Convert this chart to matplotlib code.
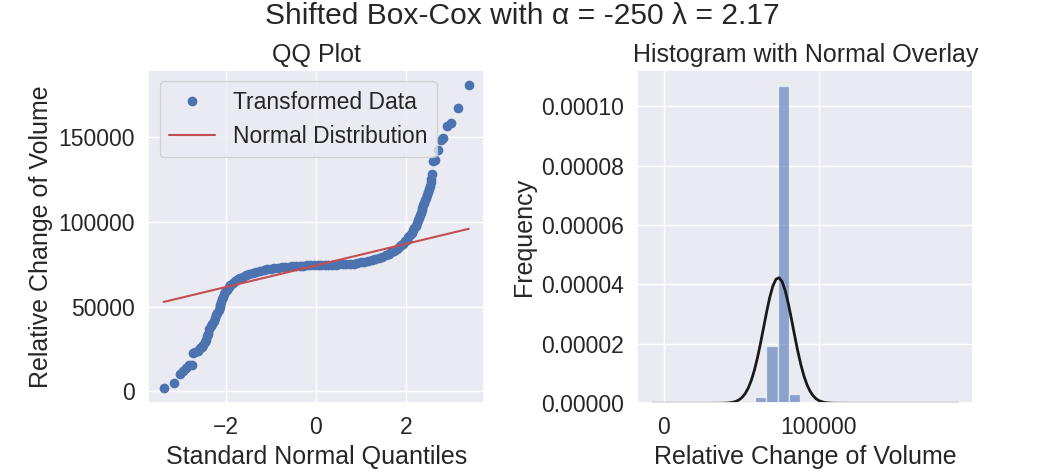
import numpy as np
import matplotlib
matplotlib.use("Agg")
import matplotlib.pyplot as plt
import seaborn as sns

# ---------------- data ----------------
# QQ plot: theoretical normal quantiles and ordered sample values
qq_theoretical = [
    -3.385, -3.149, -3.02, -2.95, -2.88, -2.81, -2.75,
    -2.72, -2.68, -2.63, -2.58, -2.54, -2.50, -2.47, -2.44, -2.42, -2.40,
    -2.37, -2.34, -2.31, -2.27, -2.24, -2.21, -2.19, -2.16, -2.14, -2.12,
    -2.10, -2.08, -2.06, -2.04, -2.01, -1.98, -1.94, -1.90, -1.85, -1.80,
    -1.74, -1.68, -1.62, -1.55, -1.48, -1.40, -1.32, -1.24, -1.16, -1.08,
    -1.00, -0.92, -0.84, -0.76, -0.68, -0.60, -0.52, -0.44, -0.36, -0.28,
    -0.20, -0.12, -0.04, 0.04, 0.12, 0.20, 0.28, 0.36, 0.44, 0.52, 0.60,
    0.68, 0.76, 0.84, 0.92, 1.00, 1.08, 1.16, 1.24, 1.32, 1.40, 1.48, 1.55,
    1.62, 1.68, 1.74, 1.80, 1.85, 1.90, 1.94, 1.98, 2.02, 2.06, 2.10, 2.13,
    2.16, 2.19, 2.22, 2.25, 2.27, 2.29, 2.31, 2.33, 2.35, 2.37, 2.39, 2.41,
    2.43, 2.45, 2.47, 2.49, 2.51, 2.53, 2.55, 2.56, 2.575,
    2.604, 2.648, 2.72, 2.774, 2.825, 2.92, 2.996, 3.157, 3.40,
]
qq_values = [
    1900, 5200, 10500, 12300, 14000, 15300, 15500,
    22500, 23000, 24000, 25300, 26300, 27500, 29000, 30500, 32500, 34000,
    36500, 38300, 40000, 41500, 43000, 44800, 46200, 48000, 49500, 51000,
    52500, 54200, 55800, 57200, 58700, 60000, 61300, 62500, 63800, 64800,
    66000, 66900, 67700, 68500, 69200, 69900, 70500, 71000, 71500, 71900,
    72300, 72600, 72900, 73150, 73350, 73550, 73750, 73900, 74050, 74200,
    74300, 74400, 74500, 74550, 74600, 74650, 74700, 74750, 74800, 74850, 74950,
    75050, 75200, 75400, 75700, 76050, 76500, 77000, 77500, 78100, 78700, 79400, 80200,
    81100, 82000, 83000, 84000, 85000, 86100, 87200, 88400, 89500, 90800, 92200, 93500,
    94900, 96300, 97800, 99300, 100800, 102300, 103800, 105300, 106800, 108300, 109800, 111300,
    112800, 114300, 116000, 117700, 119500, 121300, 123200, 125000, 128000,
    135800, 136700, 142500, 148300, 149500, 156700, 158000, 167400, 180600,
]
# reference line of the QQ plot
qq_line_intercept = 74250
qq_line_slope = 6360

# histogram (density) : 25 bins between data min and max
hist_min = 1900
hist_max = 180600
hist_density = [
    1.6e-7, 2.7e-7, 8e-8, 5.1e-7, 2.8e-7, 6.1e-7, 5.1e-7, 7.2e-7,
    2.1e-6, 1.94e-5, 1.068e-4, 3.2e-6, 5.7e-7,
    4.7e-7, 4.2e-7, 2.3e-7, 1.9e-7, 4.7e-8, 1.4e-7, 9.3e-8,
    1.4e-7, 1.4e-7, 4.7e-8, 4.7e-8, 9.3e-8,
]
# normal overlay parameters
norm_mean = 73900
norm_std = 9430

# ---------------- style ----------------
sns.set(font_scale=1.5)
plt.rcParams['font.family'] = ['Liberation Sans', 'DejaVu Sans']

fig = plt.figure(figsize=(10.44, 4.75), dpi=100)
W, H = 1044, 475
ax1 = fig.add_axes([148.3 / W, (H - 403.3) / H, 335.7 / W, 333.3 / H])
ax2 = fig.add_axes([637.3 / W, (H - 403.3) / H, 336.0 / W, 333.3 / H])

# QQ plot
ax1.plot(qq_theoretical, qq_values, 'o', color='b', label='Transformed Data')
lx = np.array([min(qq_theoretical), max(qq_theoretical)])
ax1.plot(lx, qq_line_intercept + qq_line_slope * lx, 'r-', label='Normal Distribution')
ax1.set_title('QQ Plot')
ax1.set_xlabel('Standard Normal Quantiles')
ax1.set_ylabel('Relative Change of Volume')
ax1.legend(loc='upper left')

# Histogram with normal overlay
nb = len(hist_density)
edges = np.linspace(hist_min, hist_max, nb + 1)
ax2.bar(edges[:-1], hist_density, width=np.diff(edges), align='edge',
        alpha=0.6, color='C0', edgecolor='white')
xmin, xmax = ax2.get_xlim()
xs = np.linspace(xmin, xmax, 100)
pdf = np.exp(-0.5 * ((xs - norm_mean) / norm_std) ** 2) / (norm_std * np.sqrt(2 * np.pi))
ax2.plot(xs, pdf, 'k', linewidth=2)
ax2.set_title('Histogram with Normal Overlay')
ax2.set_xlabel('Relative Change of Volume')
ax2.set_ylabel('Frequency')

fig.suptitle('Shifted Box-Cox with \u03b1 = -250 \u03bb = 2.17', y=0.995)

fig.savefig('out.png', dpi=100)
